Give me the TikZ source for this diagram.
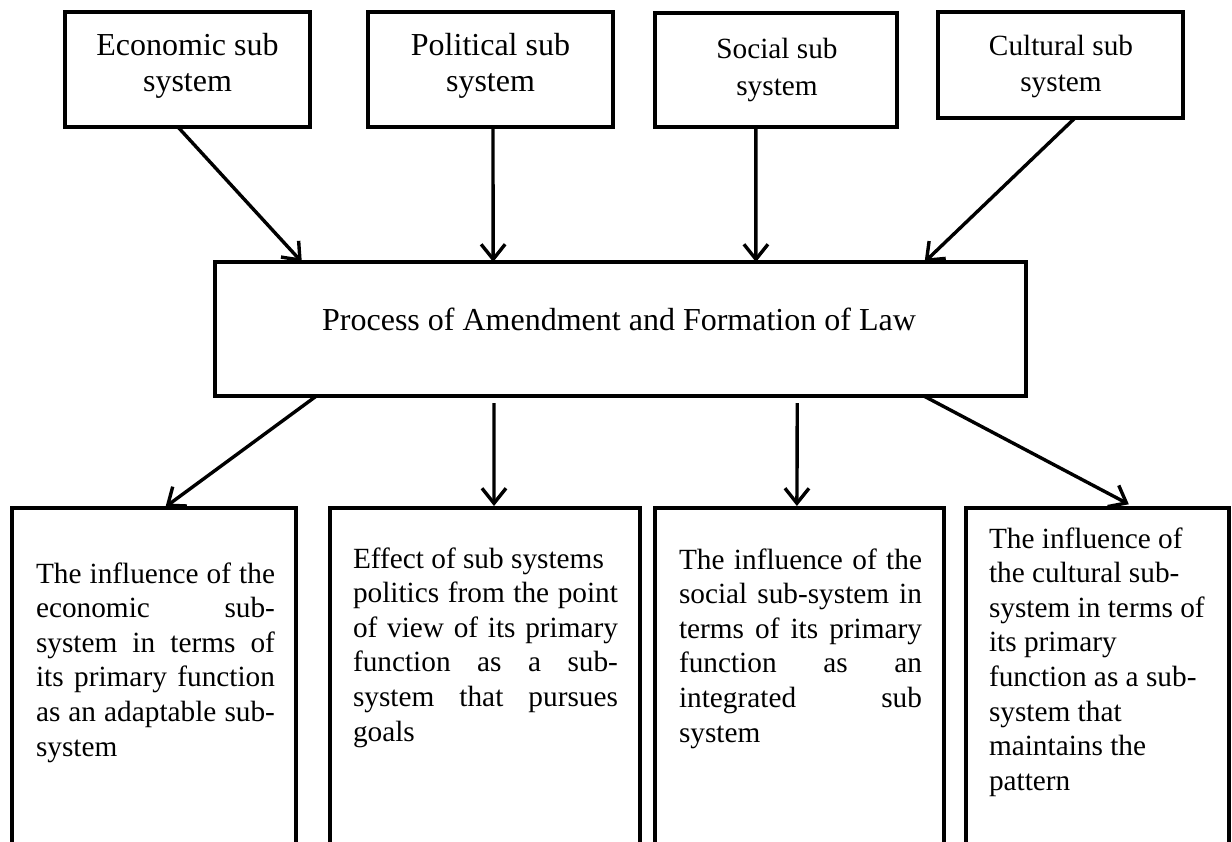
\documentclass[tikz,border=0pt]{standalone}
\usepackage{fontspec}
\setmainfont{Liberation Serif}
\usetikzlibrary{arrows.meta,calc}
\begin{document}
\begin{tikzpicture}[x=1pt,y=-1pt,
  box/.style={draw, line width=4.5pt, inner sep=0pt, outer sep=0pt},
  lbl/.style={inner sep=0pt, outer sep=0pt, align=center},
  para/.style={inner sep=0pt, outer sep=0pt, anchor=base west, font=\fontsize{29.3}{34.6}\selectfont},
  conn/.style={line width=3.4pt, -{Straight Barb[length=15pt,width=24pt]}},
  bigfont/.style={font=\fontsize{32}{36.7}\selectfont},
  smallfont/.style={font=\fontsize{29.3}{36.7}\selectfont},
]
\useasboundingbox (0,0) rectangle (1232,841);
\clip (0,0) rectangle (1232,841);

% top boxes
\node[box, minimum width=245pt, minimum height=115pt] (econ) at (187.5,69.5) {};
\node[box, minimum width=245pt, minimum height=115pt] (poli) at (490.5,69.5) {};
\node[box, minimum width=242pt, minimum height=114pt] (soc)  at (776,70) {};
\node[box, minimum width=245pt, minimum height=106pt] (cult) at (1060.5,65) {};

\node[lbl, bigfont, anchor=north] (econt) at (187.5,31) {\rule{0pt}{24pt}Economic sub\\system};
\node[lbl, bigfont, anchor=north] (polit) at (490.5,31) {\rule{0pt}{24pt}Political sub\\system};
\node[lbl, smallfont, anchor=north] (soct) at (777,36.3) {\rule{0pt}{22pt}Social sub\\system};
\node[lbl, smallfont, anchor=north] (cultt) at (1061,33) {\rule{0pt}{22pt}Cultural sub\\system};

% middle box
\node[box, minimum width=811pt, minimum height=134pt] (law) at (620.5,329) {};
\node[lbl, bigfont, anchor=base] (lawt) at (619,330) {Process of Amendment and Formation of Law};

% bottom boxes (open at the bottom edge of the picture)
\node[box, minimum width=284pt, minimum height=362pt] (b1) at (154,689) {};
\node[box, minimum width=310pt, minimum height=362pt] (b2) at (485,689) {};
\node[box, minimum width=289pt, minimum height=362pt] (b3) at (799.5,689) {};
\node[box, minimum width=263pt, minimum height=362pt] (b4) at (1097.5,689) {};

\node[para] (b1t) at (36,583) {\parbox[t]{239pt}{\tolerance=10000\hbadness=10000
The influence of the\linebreak economic sub-\linebreak system in terms of\linebreak its primary function\linebreak as an adaptable sub-\linebreak system}};
\node[para] (b2t) at (353,568) {\parbox[t]{265pt}{\tolerance=10000\hbadness=10000
Effect of sub systems\\politics from the point\linebreak of view of its primary\linebreak function as a sub-\linebreak system that pursues\linebreak goals}};
\node[para] (b3t) at (679,569) {\parbox[t]{243pt}{\tolerance=10000\hbadness=10000
The influence of the\linebreak social sub-system in\linebreak terms of its primary\linebreak function as an\linebreak integrated sub\linebreak system}};
\node[para] (b4t) at (989,548) {\parbox[t]{232pt}{\raggedright
The influence of\\the cultural sub-\\system in terms of\\its primary\\function as a sub-\\system that\\maintains the\\pattern}};

% arrows into the middle box
\draw[conn] ($(econ.south west)!0.461!(econ.south east)$) -- ($(law.north west)!0.107!(law.north east)$);
\draw[conn] ($(poli.south west)!0.51!(poli.south east)$) -- ($(law.north west)!0.343!(law.north east)$);
\draw[conn] ($(soc.south west)!0.417!(soc.south east)$) -- ($(law.north west)!0.667!(law.north east)$);
\draw[conn] ($(cult.south west)!0.559!(cult.south east)$) -- ($(law.north west)!0.875!(law.north east)$);

% arrows out of the middle box
\draw[conn, shorten >=2pt] ($(law.south west)!0.125!(law.south east)$) -- ($(b1.north west)!0.535!(b1.north east)$);
\draw[conn, shorten <=7pt, shorten >=2pt] ($(law.south west)!0.344!(law.south east)$) -- ($(b2.north west)!0.529!(b2.north east)$);
\draw[conn, shorten <=7pt, shorten >=2pt] ($(law.south west)!0.718!(law.south east)$) -- ($(b3.north west)!0.491!(b3.north east)$);
\draw[conn, shorten >=8pt] ($(law.south west)!0.874!(law.south east)$) -- ($(b4.north west)!0.646!(b4.north east)$);
\end{tikzpicture}
\end{document}
